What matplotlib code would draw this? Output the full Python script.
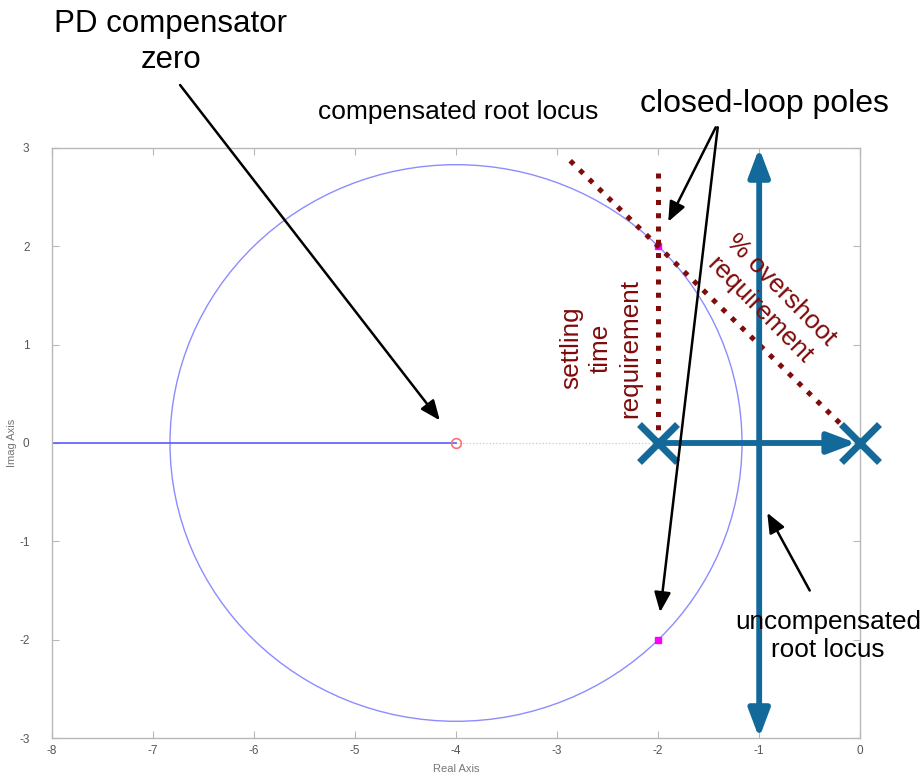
import matplotlib

matplotlib.use("Agg")
import matplotlib.pyplot as plt
import matplotlib.patches as patches

plt.rcParams["font.family"] = ["Liberation Sans", "DejaVu Sans"]
plt.rcParams["axes.unicode_minus"] = False

# ---- data
ol_poles_re = [0, -2]            # uncompensated open-loop poles
ol_poles_im = [0, 0]
pd_zero_re = [-4]                # PD compensator zero
pd_zero_im = [0]
cl_poles_re = [-2, -2]           # desired closed-loop poles
cl_poles_im = [2, -2]
locus_center = (-4, 0)           # compensated locus: circle round the zero
locus_radius = 2.83
real_locus_x = [-8, -4]          # real-axis branch left of the zero
axis_dotted_x = [-4, 0]
ts_req_x = [-2, -2]              # settling time requirement
ts_req_y = [0, 2.8]
os_req_x = [-2.87, 0]            # % overshoot requirement
os_req_y = [2.87, 0]
unc_h_x = [-2, 0]                # uncompensated locus on the real axis
unc_v_y = [-3, 3]                # uncompensated locus, vertical branch
unc_break = -1

xticks = [-8, -7, -6, -5, -4, -3, -2, -1, 0]
yticks = [-3, -2, -1, 0, 1, 2, 3]

BLUE = "#12699a"
RED = "#7f0b0b"

fig = plt.figure(figsize=(9.24, 7.78), dpi=100)
ax = fig.add_axes([0.056, 0.0514, 0.875, 0.7584])
ax.set_xlim(-8, 0)
ax.set_ylim(-3, 3)

# matlab-like box
for s in ax.spines.values():
    s.set_color("#b8b8b8")
    s.set_linewidth(1.0)
ax.set_xticks(xticks)
ax.set_yticks(yticks)
ax.tick_params(direction="in", length=5, color="#b8b8b8", labelcolor="#555555",
               labelsize=8.5, top=True, right=True)
ax.tick_params(axis="y", pad=16)
ax.tick_params(axis="x", pad=5)
ax.set_xlabel("Real Axis", fontsize=8, color="#777777", labelpad=5)
ax.set_ylabel("Imag Axis", fontsize=8, color="#777777")
ax.yaxis.set_label_coords(-0.043, 0.5)

# compensated root locus
ax.plot(axis_dotted_x, [0, 0], ":", color="#c8c8c8", lw=0.9, zorder=1)
ax.add_patch(patches.Circle(locus_center, locus_radius, fill=False,
                            ec="#8c8cff", lw=1.0, zorder=2))
ax.plot(real_locus_x, [0, 0], color="#5a5aff", lw=1.2, zorder=2)
ax.plot(pd_zero_re, pd_zero_im, "o", mfc="none", mec="#ff7070", ms=7, mew=1.2, zorder=3)
ax.plot(cl_poles_re, cl_poles_im, "s", color="#ff00ff", ms=4.5, zorder=3)

# requirement lines
ax.plot(ts_req_x, ts_req_y, ":", color=RED, lw=3.6, zorder=4)
ax.plot(os_req_x, os_req_y, ":", color=RED, lw=3.6, zorder=4)

# uncompensated root locus (thick arrows)
blue_arrow = dict(arrowstyle="-|>,head_length=0.85,head_width=0.32", lw=4.2,
                  color=BLUE, mutation_scale=20, shrinkA=0, shrinkB=0)
ax.plot([unc_h_x[0], unc_break], [0, 0], color=BLUE, lw=4.2, zorder=5,
        solid_capstyle="butt")
ax.annotate("", xy=(unc_h_x[1] - 0.04, 0), xytext=(unc_break, 0),
            arrowprops=blue_arrow, zorder=5)
for y_end in unc_v_y:
    ax.annotate("", xy=(unc_break, y_end), xytext=(unc_break, 0),
                arrowprops=blue_arrow, zorder=5, annotation_clip=False)
ax.plot(ol_poles_re, ol_poles_im, "x", color=BLUE, ms=28, mew=5, zorder=6,
        clip_on=False)

# black pointer arrows
black_arrow = dict(arrowstyle="-|>,head_length=0.6,head_width=0.25", lw=1.8,
                   color="black", mutation_scale=20, shrinkA=0, shrinkB=0)
pointers = [((-6.73, 3.64), (-4.16, 0.23)),
            ((-1.43, 3.21), (-1.90, 2.25)),
            ((-1.41, 3.21), (-1.98, -1.72)),
            ((-0.50, -1.50), (-0.92, -0.71))]
for start, end in pointers:
    ax.annotate("", xy=end, xytext=start, arrowprops=black_arrow,
                annotation_clip=False, zorder=7)

# labels
W, H = 924, 778


def ftext(px, py, s, **kw):
    fig.text(px / W, 1 - py / H, s, ha="center", va="center", **kw)


ftext(171, 42, "PD compensator\nzero", fontsize=22.5, linespacing=1.3)
ftext(458, 112, "compensated root locus", fontsize=19)
ftext(764, 104, "closed-loop poles", fontsize=23)
ftext(828, 636, "uncompensated\nroot locus", fontsize=18.8, linespacing=1.2,
      zorder=8)
ftext(601, 348, "settling\ntime\nrequirement", fontsize=18.8, color=RED,
      rotation=90, linespacing=1.28)
fig.text(770 / W, 1 - 300 / H, "% overshoot\nrequirement", fontsize=18.8,
         color=RED, rotation=-45.5, rotation_mode="anchor", ha="center",
         va="center", linespacing=1.3)

fig.savefig("out.png", dpi=100)
